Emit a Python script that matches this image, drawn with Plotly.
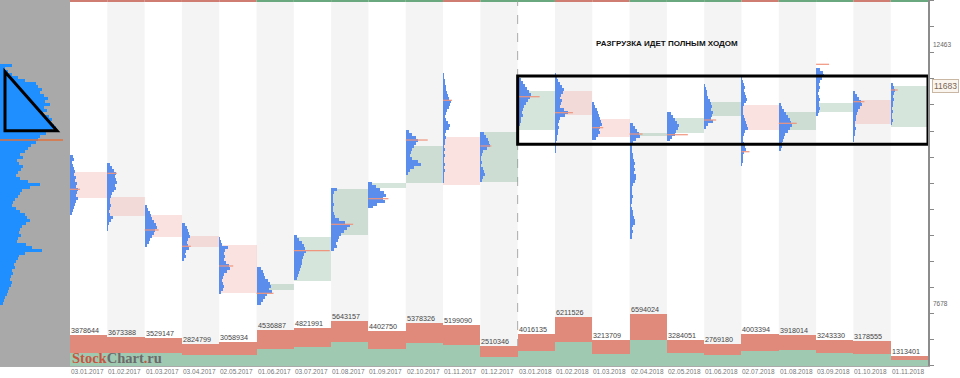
import plotly.graph_objects as go

# ---------------- data ----------------
MONTHS = ["03.01.2017", "01.02.2017", "01.03.2017", "03.04.2017", "02.05.2017", "01.06.2017",
          "03.07.2017", "01.08.2017", "01.09.2017", "02.10.2017", "01.11.2017", "01.12.2017",
          "03.01.2018", "01.02.2018", "01.03.2018", "02.04.2018", "02.05.2018", "01.06.2018",
          "02.07.2018", "01.08.2018", "03.09.2018", "01.10.2018", "01.11.2018"]

OPEN = [10104, 9642, 9304, 8916, 8755, 7918, 8084, 8940, 9803, 9901, 10739, 9913,
        10874, 11600, 11083, 10763, 10824, 11133, 11336, 10874, 11212, 11428, 10935]
CLOSE = [9612, 9291, 8903, 8718, 7868, 8029, 8903, 9779, 9901, 10579, 9858, 10843,
         11600, 11151, 10750, 10813, 11101, 11397, 10874, 11212, 11379, 10985, 11683]

VOLUME = [3878644, 3673388, 3529147, 2824799, 3058934, 4536887, 4821991, 5643157, 4402750,
          5378326, 5199090, 2510346, 4016135, 6211526, 3213709, 6594024, 3284051, 2769180,
          4003394, 3918014, 3243330, 3178555, 1313401]
BUY_VOLUME = [1690000, 1690000, 1600000, 1350000, 1440000, 2190000, 2390000, 3020000, 2190000,
              2900000, 2610000, 1130000, 1890000, 3020000, 1560000, 3240000, 1640000, 1350000,
              1890000, 1980000, 1640000, 1560000, 720000]

PRICE_BIN = 55
PROFILE_HIGH = [10412, 10270, 9488, 9161, 8892, 8349, 8934, 9797, 9919, 10874, 11922, 10843,
                11829, 11933, 11397, 10998, 11212, 11724, 11859, 11367, 12014, 11595, 11737]
PROFILE_VOL = [
    [3, 4, 2, 3, 4, 5, 4, 6, 5, 7, 6, 8, 7, 6, 8, 6, 5, 4, 3, 2],
    [3, 5, 7, 9, 8, 9, 10, 8, 9, 7, 5, 4, 3, 3, 4, 3, 2, 3, 6, 4, 2, 1, 1],
    [2, 3, 5, 6, 7, 9, 11, 12, 10, 9, 7, 5, 4, 2],
    [3, 5, 6, 7, 8, 6, 5, 6, 7, 4, 3, 4, 2],
    [1, 2, 3, 9, 6, 5, 6, 5, 7, 10, 11, 8, 5, 4, 3, 4, 5, 4, 2],
    [4, 6, 7, 8, 11, 13, 14, 12, 15, 10, 8, 6, 4],
    [3, 5, 8, 10, 11, 12, 10, 9, 8, 8, 7, 6, 5, 4, 3],
    [6, 3, 2, 2, 2, 3, 2, 2, 3, 4, 8, 14, 19, 16, 13, 10, 8, 7, 5, 6, 3],
    [4, 8, 12, 16, 18, 15, 17, 9, 5],
    [3, 6, 10, 12, 10, 8, 6, 5, 4, 6, 12, 15, 8, 4, 2],
    [1, 1, 2, 2, 3, 3, 4, 5, 6, 8, 7, 6, 4, 3, 2, 3, 5, 7, 6, 3, 2, 3, 2, 2, 1, 2, 1, 2, 1, 1,
     2, 1, 2, 1, 1, 1, 1],
    [4, 6, 8, 9, 10, 7, 3, 2, 1, 1, 2, 1, 3, 4, 5, 3, 2],
    [3, 5, 7, 9, 11, 13, 12, 10, 8, 6, 5, 4, 5, 3, 3, 2],
    [1, 2, 3, 5, 7, 9, 8, 6, 5, 7, 6, 5, 9, 13, 10, 5, 4, 3, 4, 3, 3, 2, 2, 1, 1, 1, 1],
    [2, 3, 5, 6, 7, 8, 9, 10, 8, 7, 8, 6, 4],
    [3, 5, 7, 9, 10, 6, 3, 2, 2, 2, 3, 3, 4, 5, 4, 5, 4, 6, 6, 5, 3, 2, 2, 2, 3, 2, 2, 1, 2, 3,
     3, 4, 5, 5, 3, 2, 3, 2, 2],
    [4, 6, 8, 10, 12, 11, 9, 8, 5, 3],
    [1, 2, 3, 3, 4, 6, 7, 8, 7, 9, 8, 7, 9, 4, 2],
    [1, 2, 3, 4, 3, 4, 5, 6, 5, 3, 2, 2, 2, 3, 4, 5, 6, 7, 4, 3, 2, 2, 3, 4, 5, 3, 2, 2, 2, 1],
    [2, 3, 5, 7, 9, 11, 12, 13, 11, 9, 6, 5, 4, 3, 3, 2],
    [4, 7, 8, 6, 4, 3, 4, 3, 2, 3, 4, 3, 3, 4, 3, 2],
    [2, 4, 6, 8, 9, 7, 5, 4, 3, 3, 2, 2, 3, 2, 2, 1, 1],
    [2, 3, 4, 3, 2, 3, 2, 2, 1, 2, 1, 1, 2, 1],
]
POC_PRICE = [9779, 10074, 9027, 8726, 8362, 7857, 8644, 9132, 9605, 10689, 11423, 10579,
             11489, 11194, 10917, 10800, 10787, 11059, 10473, 10998, 12088, 11397, 11613]
POC_VOL = [10, 9.5, 14, 9, 14, 17, 36, 22, 20, 22, 9, 11, 22, 18, 11, 13, 21, 12, 8, 18, 13, 11, 7]

TOTAL_PROFILE_HIGH = 12094
TOTAL_PROFILE_VOL = [12, 5, 8, 12, 18, 25, 36, 38, 42, 40, 44, 48, 45, 50, 44, 47, 43, 49, 52, 50,
                     54, 56, 52, 46, 40, 38, 36, 31, 28, 25, 20, 23, 17, 19, 23, 21, 18, 16, 20, 28,
                     40, 30, 22, 20, 18, 15, 13, 12, 16, 20, 25, 27, 30, 26, 22, 20, 19, 21, 18, 17,
                     26, 32, 42, 25, 19, 18, 16, 14, 15, 12, 13, 11, 10, 12, 11, 9, 8, 7, 5, 4, 3]
TOTAL_POC_PRICE = 10689
TOTAL_POC_VOL = 63

LAST_PRICE = 11683
SCALE_LABELS = [12463, 7678]
TITLE = "РАЗГРУЗКА ИДЕТ ПОЛНЫМ ХОДОМ"

# ---------------- styling ----------------
W, H = 960, 378
M_R, M_B = 32, 12
PLOT_W = W - M_R
LEFT_W = 70
COL_PX = (PLOT_W - LEFT_W) / len(MONTHS)
VOL_SCALE = 1.0 / COL_PX          # profile units -> column units
PRICE_RANGE = [6514, 13276]
VOL_MAX = 366 * 126000

BLUE = "#5b8dec"
BLUE_TOTAL = "#1f8fff"
POC_COL = "#f0957d"
PINK = "rgba(235,165,155,0.32)"
GREEN = "rgba(120,170,135,0.30)"
VOL_RED = "#e08a7b"
VOL_GREEN = "#a0c9b2"

n = len(MONTHS)
fig = go.Figure()

# candle bodies (value boxes)
up = [c >= o for o, c in zip(OPEN, CLOSE)]
fig.add_trace(go.Bar(
    x=[i + 0.5 for i in range(n)], y=[abs(c - o) for o, c in zip(OPEN, CLOSE)],
    base=[min(o, c) for o, c in zip(OPEN, CLOSE)], width=1,
    marker=dict(color=[GREEN if u else PINK for u in up], line=dict(width=0)),
    hoverinfo="skip", showlegend=False))

# monthly volume profiles
py, px, pb = [], [], []
for m in range(n):
    for k, v in enumerate(PROFILE_VOL[m]):
        py.append(PROFILE_HIGH[m] - PRICE_BIN * (k + 0.5))
        px.append(v * VOL_SCALE)
        pb.append(m)
fig.add_trace(go.Bar(orientation="h", y=py, x=px, base=pb, width=PRICE_BIN,
                     marker=dict(color=BLUE, line=dict(width=0)),
                     hoverinfo="skip", showlegend=False))

# POC lines
lx, ly = [], []
for m in range(n):
    lx += [m, m + POC_VOL[m] * VOL_SCALE, None]
    ly += [POC_PRICE[m], POC_PRICE[m], None]
fig.add_trace(go.Scatter(x=lx, y=ly, mode="lines", line=dict(color=POC_COL, width=1.2),
                         hoverinfo="skip", showlegend=False))

# total profile (left panel)
ty = [TOTAL_PROFILE_HIGH - PRICE_BIN * (k + 0.5) for k in range(len(TOTAL_PROFILE_VOL))]
fig.add_trace(go.Bar(orientation="h", y=ty, x=TOTAL_PROFILE_VOL, base=0, width=PRICE_BIN,
                     marker=dict(color=BLUE_TOTAL, line=dict(width=0)),
                     xaxis="x2", yaxis="y", hoverinfo="skip", showlegend=False))
fig.add_trace(go.Scatter(x=[0, TOTAL_POC_VOL], y=[TOTAL_POC_PRICE] * 2, mode="lines",
                         line=dict(color="#e0703c", width=1.5), xaxis="x2", yaxis="y",
                         hoverinfo="skip", showlegend=False))

# volume bars
fig.add_trace(go.Bar(x=[i + 0.5 for i in range(n)], y=VOLUME, width=1, yaxis="y2",
                     marker=dict(color=VOL_RED, line=dict(width=0)),
                     hoverinfo="skip", showlegend=False))
fig.add_trace(go.Bar(x=[i + 0.5 for i in range(n)], y=BUY_VOLUME, width=1, yaxis="y2",
                     marker=dict(color=VOL_GREEN, line=dict(width=0)),
                     hoverinfo="skip", showlegend=False))

shapes = []
# left panel background
shapes.append(dict(type="rect", xref="paper", yref="paper", x0=0, x1=LEFT_W / PLOT_W,
                   y0=0, y1=1, fillcolor="#a9a9a9", line=dict(width=0), layer="below"))
# alternating columns + top strip
for i in range(n):
    if i % 2 == 1:
        shapes.append(dict(type="rect", xref="x", yref="paper", x0=i, x1=i + 1, y0=0, y1=1,
                           fillcolor="#f4f4f4", line=dict(width=0), layer="below"))
    shapes.append(dict(type="rect", xref="x", yref="paper", x0=i, x1=i + 1,
                       y0=1 - 2.0 / (H - M_B), y1=1,
                       fillcolor="#6aa97f" if up[i] else "#cf7d72", line=dict(width=0),
                       layer="above"))
# year divider
shapes.append(dict(type="line", xref="x", yref="paper", x0=12, x1=12, y0=0, y1=1,
                   line=dict(color="#aaaaaa", width=1, dash="dash"), layer="below"))
# highlight rectangle
shapes.append(dict(type="rect", xref="x", yref="y", x0=12, x1=23, y0=10610, y1=11872,
                   line=dict(color="black", width=3), fillcolor="rgba(0,0,0,0)"))
# triangle on total profile
shapes.append(dict(type="path", xref="x2", yref="y",
                   path="M 5,11951 L 5,10861 L 57,10861 Z",
                   line=dict(color="black", width=3)))

ann = []
for i in range(n):
    ann.append(dict(x=i, y=0, xref="x", yref="paper", text=MONTHS[i], showarrow=False,
                    xanchor="left", yanchor="top", xshift=-1,
                    font=dict(size=6.5, color="#777777", family="Liberation Sans")))
    ann.append(dict(x=i, y=VOLUME[i], xref="x", yref="y2", text=str(VOLUME[i]),
                    showarrow=False, xanchor="left", yanchor="bottom", xshift=-1, yshift=-2,
                    font=dict(size=7.2, color="#444444", family="Liberation Sans")))
for v in SCALE_LABELS:
    ann.append(dict(x=1, y=v, xref="paper", yref="y", text=str(v), showarrow=False,
                    xanchor="left", xshift=3,
                    font=dict(size=6.5, color="#666666", family="Liberation Sans")))
ann.append(dict(x=1, y=LAST_PRICE, xref="paper", yref="y", text=str(LAST_PRICE),
                showarrow=False, xanchor="left", xshift=4, bgcolor="#faf5ee",
                bordercolor="#c9b7a3", borderwidth=1, borderpad=1,
                font=dict(size=8.5, color="#7a6656", family="Liberation Sans")))
ann.append(dict(x=16.0, y=12481, xref="x", yref="y", text="<b>" + TITLE + "</b>",
                showarrow=False, xanchor="center",
                font=dict(size=8, color="#111111", family="Liberation Sans")))
ann.append(dict(x=0, y=7.6 * 126000, xref="x", yref="y2", yanchor="middle", xanchor="left",
                text='<b><span style="color:#c8553f">Stock</span>'
                     '<span style="color:#6b6b6b">Chart</span>'
                     '<span style="color:#c8553f">.</span>'
                     '<span style="color:#6b6b6b">ru</span></b>',
                showarrow=False, font=dict(size=14.5, family="Liberation Serif")))

fig.update_layout(
    width=W, height=H, margin=dict(l=0, r=M_R, t=0, b=M_B),
    paper_bgcolor="white", plot_bgcolor="rgba(0,0,0,0)",
    barmode="overlay", bargap=0, showlegend=False,
    xaxis=dict(domain=[LEFT_W / PLOT_W, 1], range=[0, n], showgrid=False, zeroline=False,
               showticklabels=False, ticks="", showline=True, linecolor="#aaaaaa",
               linewidth=1, fixedrange=True),
    xaxis2=dict(domain=[0, LEFT_W / PLOT_W], range=[0, LEFT_W], anchor="y", showgrid=False,
                zeroline=False, showticklabels=False, ticks="", showline=True,
                linecolor="#aaaaaa", linewidth=1),
    yaxis=dict(range=PRICE_RANGE, side="right", anchor="x", showgrid=False, zeroline=False,
               showticklabels=False, ticks="outside", ticklen=4, tickcolor="#888888",
               tickmode="linear", tick0=6999, dtick=482,
               showline=True, linecolor="#8c8c8c", linewidth=2),
    yaxis2=dict(range=[0, VOL_MAX], overlaying="y", anchor="x", visible=False),
    shapes=shapes, annotations=ann,
)

fig.write_html("out.html", config={"displayModeBar": False, "staticPlot": True},
               post_script="document.body.style.margin='0';document.body.style.overflow='hidden';")
